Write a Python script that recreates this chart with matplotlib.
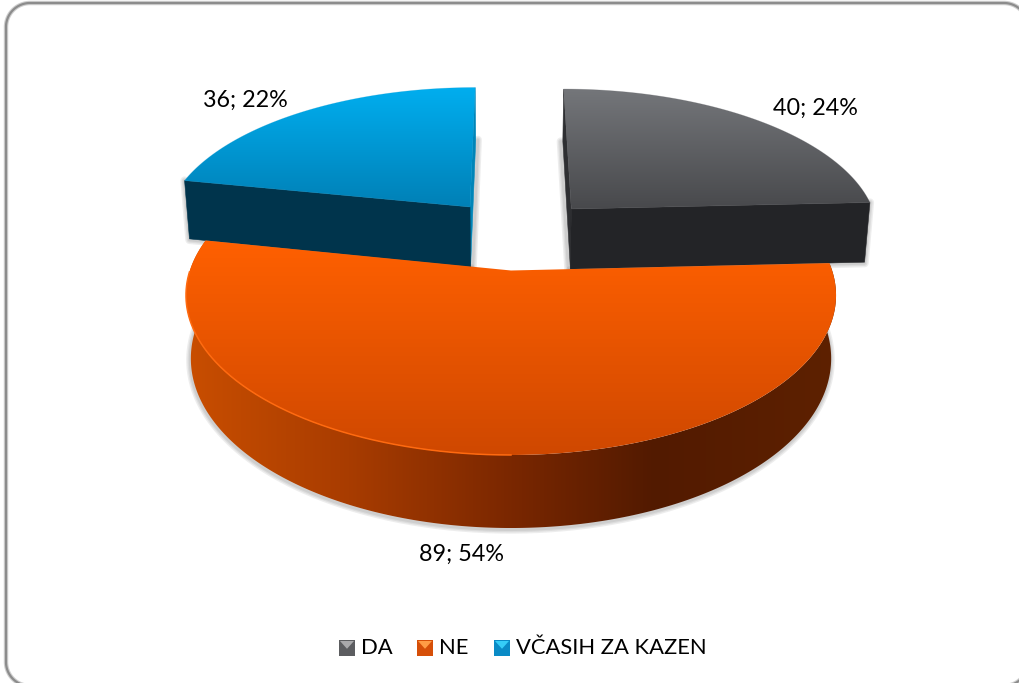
import numpy as np
import matplotlib
matplotlib.use("Agg")
import matplotlib.pyplot as plt
from matplotlib.colors import LinearSegmentedColormap
from matplotlib.patches import Polygon, Rectangle

CATEGORIES = ["DA", "NE", "VČASIH ZA KAZEN"]
VALUES = [40, 89, 36]

TOP_COLORS = [["#74767A", "#48494C"], ["#FF6000", "#CF4800"], ["#00AEEF", "#0080B6"]]
FRONT_COLORS = ["#232427", "#5A1E00", "#00344C"]
SLIVER_COLORS = ["#2E2F32", "#5A1E00", "#0085B8"]
# how far each slice is pulled out of the pie, in disc units
EXPLODE = [(0.2, 0.4202), (0.0, 0.0), (-0.1363, 0.4347)]
SLICE_THICK = [64.0, 61.7, 64.0]
LABEL_POS = [(815, 108), (462, 554), (245, 100)]
RIM_STOPS = [(0.0, "#C94E00"), (0.25, "#A83C00"), (0.5, "#7A2700"),
             (0.72, "#521A00"), (1.0, "#5E2100")]
KEY_COLORS = [("#5C5D60", "#A9A9AB"), ("#D64F08", "#FF9C45"), ("#0A8BC6", "#35CDF7")]
KEY_X = [339, 417, 494]
TEXT_X = [361, 439, 516]

# perspective of the disc, all in image pixels
CX, CY = 511.0, 270.5
A, B, K = 321.1, 155.9, 0.155
SHRINK = 0.985

plt.rcParams['font.family'] = ['Lato', 'DejaVu Sans']


def top_xy(x, y):
    w = 1 + K * y
    return CX + A * x / w, CY - B * y / w


def bottom_xy(x, y, thick):
    sx, sy = top_xy(x, y)
    return CX + (sx - CX) * SHRINK, sy + thick / (1 + K * y)


def arc(a0, a1, off, n=200):
    # angles clockwise from 12 o'clock, degrees
    t = np.radians(np.linspace(a0, a1, n))
    return off[0] + np.sin(t), off[1] + np.cos(t)


def gradient_fill(ax, verts, stops, vertical=True, edge=True):
    verts = np.asarray(verts)
    x0, y0 = verts.min(axis=0)
    x1, y1 = verts.max(axis=0)
    cmap = LinearSegmentedColormap.from_list("g", stops)
    g = np.linspace(0, 1, 256)
    g = g[:, None] if vertical else g[None, :]
    im = ax.imshow(g, cmap=cmap, extent=(x0, x1, y1, y0), aspect='auto',
                   interpolation='bilinear', zorder=ax._z)
    patch = Polygon(verts, closed=True, transform=ax.transData)
    im.set_clip_path(patch)
    if edge:
        # soften the clipped edge
        ax.add_patch(Polygon(verts, closed=True, fill=False, lw=0.5, zorder=ax._z,
                             edgecolor=cmap(0.5), alpha=0.3))
    ax._z += 1


def soft_line(ax, x, y, widths=(6, 4, 2.2), alpha=0.09):
    for lw in widths:
        ax.plot(x, y, color="#404040", lw=lw, alpha=alpha, zorder=ax._z,
                solid_capstyle='round')
    ax._z += 1


def rounded_frame(x0, y0, x1, y1, r, n=30):
    corners = [(x1 - r, y0 + r, -90, 0), (x1 - r, y1 - r, 0, 90),
               (x0 + r, y1 - r, 90, 180), (x0 + r, y0 + r, 180, 270)]
    pts = []
    for cx, cy, t0, t1 in corners:
        t = np.radians(np.linspace(t0, t1, n))
        pts.append(np.column_stack([cx + r * np.cos(t), cy + r * np.sin(t)]))
    return np.vstack(pts)


fig = plt.figure(figsize=(10.19, 6.83), dpi=100)
ax = fig.add_axes([0, 0, 1, 1])
ax._z = 2

# frame, runs off the right and bottom of the picture
frame = rounded_frame(6, 3, 1028, 686, 24)
ax.add_patch(Polygon(frame, closed=True, fc="white", ec="#CFCFCF", lw=3.2, zorder=1))
ax.add_patch(Polygon(frame, closed=True, fc="none", ec="#8C8C8C", lw=1.6, zorder=1))

total = float(sum(VALUES))
edges = np.concatenate([[0], np.cumsum(VALUES)]) / total * 360.0

# pulled out slices go behind the big one
for i in [0, 2]:
    off = EXPLODE[i]
    thick = SLICE_THICK[i]
    a0, a1 = edges[i], edges[i + 1]
    ux, uy = arc(a0, a1, off)
    front_a, back_a = (a1, a0) if i == 0 else (a0, a1)
    fx, fy = arc(front_a, front_a, off, 1)
    bx, by = arc(back_a, back_a, off, 1)

    # radial faces
    for (ex, ey), col in [((bx[0], by[0]), SLIVER_COLORS[i]), ((fx[0], fy[0]), FRONT_COLORS[i])]:
        quad = [top_xy(*off), top_xy(ex, ey), bottom_xy(ex, ey, thick), bottom_xy(*off, thick)]
        if col == FRONT_COLORS[i]:
            soft_line(ax, [quad[1][0], quad[2][0], quad[3][0]],
                      [quad[1][1], quad[2][1] + 1, quad[3][1] + 1])
        else:
            soft_line(ax, [quad[2][0] + (2 if i == 2 else -2), quad[3][0] + (2 if i == 2 else -2)],
                      [quad[2][1], quad[3][1]])
        ax.add_patch(Polygon(quad, closed=True, fc=col, ec=col, lw=0.4, zorder=ax._z))
        ax._z += 1

    # top face
    sx, sy = top_xy(ux, uy)
    apex = top_xy(*off)
    verts = np.column_stack([np.r_[apex[0], sx], np.r_[apex[1], sy]])
    gradient_fill(ax, verts, TOP_COLORS[i])

# big slice, rim first
off = EXPLODE[1]
a0, a1 = edges[1], edges[2]
ux, uy = arc(a0, a1, off, 400)
tx, ty = top_xy(ux, uy)
bx, by = bottom_xy(ux, uy, SLICE_THICK[1])
soft_line(ax, bx - 0.5, by + 1.5)
rim = np.column_stack([np.r_[tx, bx[::-1]], np.r_[ty, by[::-1]]])
gradient_fill(ax, rim, RIM_STOPS, vertical=False, edge=False)

apex = top_xy(*off)
verts = np.column_stack([np.r_[apex[0], tx], np.r_[apex[1], ty]])
gradient_fill(ax, verts, TOP_COLORS[1], edge=False)

# bright bevel on the lit side of the top edge
hx, hy = top_xy(*arc(180, a1 - 12, off))
ax.plot(hx, hy, color="#FF6A10", lw=1.1, zorder=ax._z)
ax._z += 1

# value labels
for i, v in enumerate(VALUES):
    ax.text(LABEL_POS[i][0], LABEL_POS[i][1], "%d; %d%%" % (v, round(100 * v / total)),
            fontsize=16.8, color="black", ha='center', va='center', zorder=ax._z)

# legend
key_y, key_size = 640, 16
for i, name in enumerate(CATEGORIES):
    body, light = KEY_COLORS[i]
    x0 = KEY_X[i]
    ax.add_patch(Rectangle((x0, key_y), key_size, key_size, fc=body, ec="none", zorder=ax._z))
    ax.add_patch(Polygon([(x0 + 1, key_y + 1), (x0 + key_size - 1, key_y + 1),
                          (x0 + key_size / 2, key_y + key_size * 0.55)],
                         closed=True, fc=light, ec="none", zorder=ax._z + 1))
    ax.text(TEXT_X[i], 648, name, fontsize=15.8, color="black", ha='left', va='center',
            zorder=ax._z)

ax.set_xlim(0, 1019)
ax.set_ylim(683, 0)
ax.axis('off')
fig.savefig('out.png', dpi=100, facecolor='white')
